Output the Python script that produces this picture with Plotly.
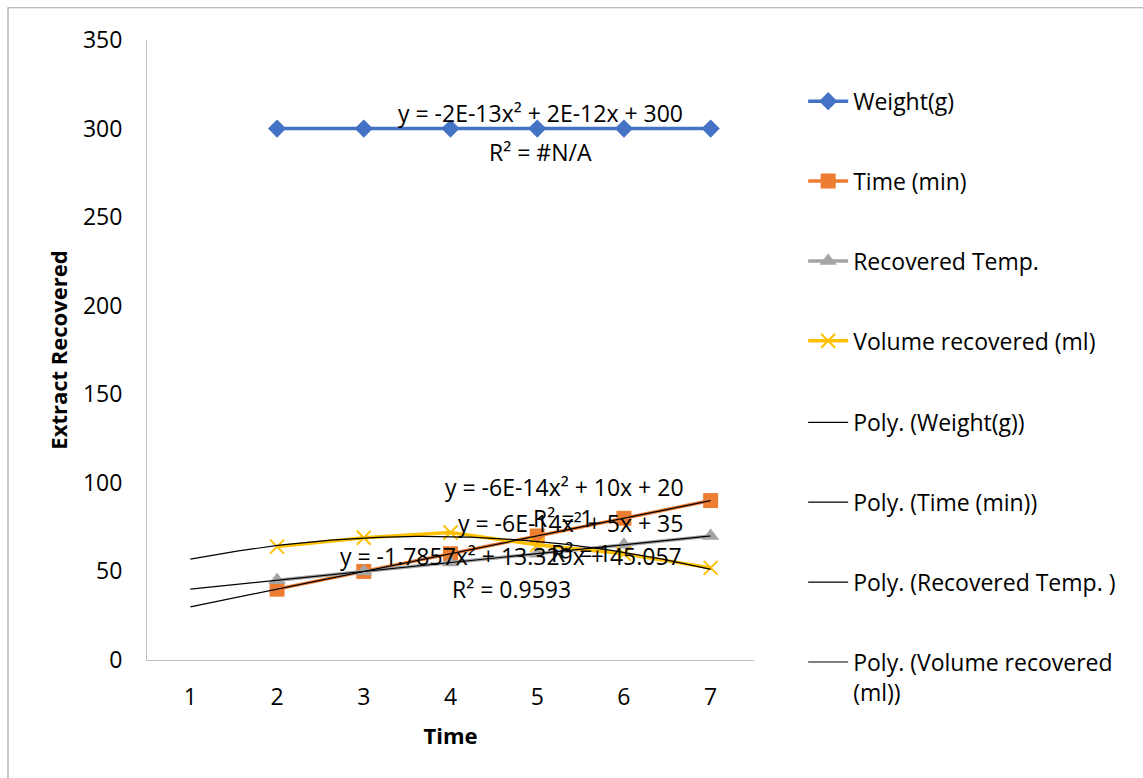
import numpy as np
import plotly.graph_objects as go

categories = [1, 2, 3, 4, 5, 6, 7]
weight_g = [None, 300, 300, 300, 300, 300, 300]
time_min = [None, 40, 50, 60, 70, 80, 90]
recovered_temp = [None, 45, 50, 55, 60, 65, 70]
volume_ml = [None, 64, 69, 72, 65, 60, 52]

FONT = "Open Sans"
fig = go.Figure()

series = [
    ("Weight(g)", weight_g, "#4472C4", dict(symbol="diamond", size=14)),
    ("Time (min)", time_min, "#ED7D31", dict(symbol="square", size=15)),
    ("Recovered Temp.", recovered_temp, "#A5A5A5", dict(symbol="triangle-up", size=15)),
    ("Volume recovered (ml)", volume_ml, "#FFC000",
     dict(symbol="x-thin", size=14, line=dict(width=2, color="#FFC000"))),
]
for i, (name, vals, col, mk) in enumerate(series):
    fig.add_trace(go.Scatter(
        x=categories, y=vals, mode="lines+markers", name=name,
        line=dict(color=col, width=3.5), marker=dict(color=col, **mk),
        legend="legend", legendgroup=f"g{i}", legendrank=i + 1))

trend_names = ["Poly. (Weight(g))", "Poly. (Time (min))",
               "Poly. (Recovered Temp. )", "Poly. (Volume recovered<br>(ml))"]
xs = np.linspace(categories[0], categories[-1], 120)
for j, (tname, (name, vals, col, mk)) in enumerate(zip(trend_names, series)):
    xv = [c for c, v in zip(categories, vals) if v is not None]
    yv = [v for v in vals if v is not None]
    if j == 0:
        # R² = #N/A in the source: the trend line is not drawn
        tx, ty = [None], [None]
    else:
        coef = np.polyfit(xv, yv, 2)
        tx, ty = xs, np.polyval(coef, xs)
    fig.add_trace(go.Scatter(
        x=tx, y=ty, mode="lines", name=tname,
        line=dict(color="black", width=1.2),
        legend="legend2", legendgroup=f"t{j}", legendrank=5 + j))

ann_font = dict(family=FONT, size=23, color="#000000")
labels = [
    (5.04, 308.8, "y = -2E-13x² + 2E-12x + 300"),
    (5.04, 286.8, "R² = #N/A"),
    (5.32, 97.7, "y = -6E-14x² + 10x + 20"),
    (5.30, 80.2, "R² = 1"),
    (5.38, 77.3, "y = -6E-14x² + 5x + 35"),
    (5.50, 60.4, "R² = 1"),
    (4.70, 58.7, "y = -1.7857x² + 13.329x + 45.057"),
    (4.70, 40.1, "R² = 0.9593"),
]
for ax_, ay_, txt in labels:
    fig.add_annotation(x=ax_, y=ay_, text=txt, showarrow=False,
                       font=ann_font, xanchor="center", yanchor="middle")

# outer chart border
fig.add_shape(type="rect", xref="paper", yref="paper",
              x0=-0.229, x1=1.75, y0=-0.3, y1=1.052,
              line=dict(color="#A6A6A6", width=1.2), layer="below")

legend_common = dict(xanchor="left", yanchor="top",
                     font=dict(family=FONT, size=23, color="#000000"),
                     tracegroupgap=47, itemwidth=40, valign="top",
                     bgcolor="rgba(0,0,0,0)")

fig.update_layout(
    width=1143, height=778,
    margin=dict(l=147, r=389, t=40, b=118),
    paper_bgcolor="white", plot_bgcolor="white",
    font=dict(family=FONT, size=23, color="#000000"),
    showlegend=True,
    legend=dict(x=1.081, y=0.936, **legend_common),
    legend2=dict(x=1.081, y=0.418, **legend_common),
    xaxis=dict(range=[0.5, 7.5], tickvals=categories, ticktext=[str(c) for c in categories],
               showgrid=False, zeroline=False, showline=True, linecolor="#BFBFBF",
               linewidth=1, ticks="", tickfont=dict(family=FONT, size=23),
               ticklabelstandoff=16,
               title=dict(text="<b>Time</b>", font=dict(family=FONT, size=22), standoff=18)),
    yaxis=dict(range=[0, 350], tickvals=[0, 50, 100, 150, 200, 250, 300, 350],
               showgrid=False, zeroline=False, showline=True, linecolor="#BFBFBF",
               linewidth=1, ticks="", tickfont=dict(family=FONT, size=23),
               ticklabelstandoff=19,
               title=dict(text="<b>Extract Recovered</b>", font=dict(family=FONT, size=22),
                          standoff=9)),
)

fig.write_html("out.html")
